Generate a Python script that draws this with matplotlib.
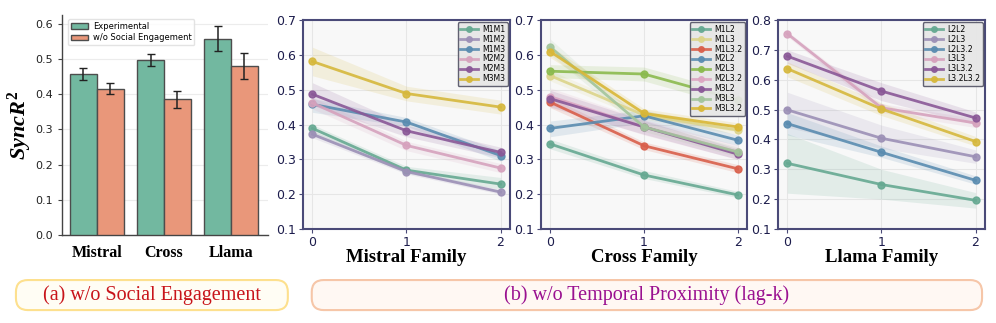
import matplotlib
matplotlib.use("Agg")
import matplotlib.pyplot as plt
import numpy as np
from matplotlib.patches import FancyBboxPatch

plt.rcParams['mathtext.fontset'] = 'custom'
plt.rcParams['mathtext.it'] = 'Liberation Serif:italic:bold'
plt.rcParams['mathtext.rm'] = 'Liberation Serif:bold'

# ---------------- data ----------------
bar_groups = ["Mistral", "Cross", "Llama"]
exp_vals = [0.458, 0.496, 0.557]
exp_err = [0.017, 0.017, 0.035]
wo_vals = [0.415, 0.385, 0.480]
wo_err = [0.015, 0.025, 0.036]

lags = [0, 1, 2]

mistral_names = ["M1M1", "M1M2", "M1M3", "M2M2", "M2M3", "M3M3"]
mistral_vals = [
    [0.389, 0.269, 0.229],
    [0.372, 0.265, 0.206],
    [0.458, 0.407, 0.311],
    [0.462, 0.340, 0.275],
    [0.487, 0.382, 0.320],
    [0.581, 0.489, 0.450],
]
mistral_lo = [
    [0.375, 0.260, 0.215],
    [0.362, 0.258, 0.200],
    [0.435, 0.395, 0.295],
    [0.445, 0.325, 0.262],
    [0.455, 0.365, 0.305],
    [0.540, 0.468, 0.430],
]
mistral_hi = [
    [0.400, 0.280, 0.248],
    [0.382, 0.272, 0.214],
    [0.475, 0.420, 0.325],
    [0.478, 0.352, 0.288],
    [0.520, 0.398, 0.335],
    [0.622, 0.510, 0.470],
]

cross_names = ["M1L2", "M1L3", "M1L3.2", "M2L2", "M2L3", "M2L3.2", "M3L2", "M3L3", "M3L3.2"]
cross_vals = [
    [0.344, 0.255, 0.198],
    [0.540, 0.427, 0.384],
    [0.464, 0.339, 0.273],
    [0.389, 0.425, 0.355],
    [0.553, 0.545, 0.471],
    [0.480, 0.393, 0.321],
    [0.474, 0.393, 0.315],
    [0.622, 0.393, 0.321],
    [0.609, 0.432, 0.393],
]
cross_lo = [
    [0.330, 0.245, 0.190],
    [0.525, 0.415, 0.372],
    [0.448, 0.328, 0.262],
    [0.365, 0.405, 0.340],
    [0.535, 0.525, 0.450],
    [0.455, 0.370, 0.300],
    [0.450, 0.372, 0.300],
    [0.600, 0.380, 0.308],
    [0.592, 0.420, 0.380],
]
cross_hi = [
    [0.358, 0.268, 0.208],
    [0.555, 0.440, 0.395],
    [0.478, 0.350, 0.285],
    [0.410, 0.442, 0.370],
    [0.572, 0.565, 0.490],
    [0.505, 0.415, 0.340],
    [0.498, 0.412, 0.330],
    [0.645, 0.408, 0.335],
    [0.625, 0.445, 0.405],
]

llama_names = ["L2L2", "L2L3", "L2L3.2", "L3L3", "L3L3.2", "L3.2L3.2"]
llama_vals = [
    [0.320, 0.249, 0.196],
    [0.499, 0.404, 0.342],
    [0.453, 0.357, 0.263],
    [0.754, 0.506, 0.455],
    [0.679, 0.562, 0.472],
    [0.637, 0.502, 0.393],
]
llama_lo = [
    [0.220, 0.200, 0.170],
    [0.440, 0.370, 0.320],
    [0.415, 0.340, 0.250],
    [0.745, 0.490, 0.440],
    [0.655, 0.530, 0.450],
    [0.610, 0.480, 0.378],
]
llama_hi = [
    [0.420, 0.300, 0.222],
    [0.558, 0.448, 0.365],
    [0.490, 0.378, 0.278],
    [0.762, 0.520, 0.470],
    [0.700, 0.590, 0.492],
    [0.660, 0.522, 0.410],
]

six_colors = ["#66a992", "#9c90b6", "#5a8cb0", "#d6a2bd", "#8a5897", "#d6b83c"]
cross_colors = ["#66a992", "#dcd48a", "#d95f4b", "#5a8cb0", "#8bba4e",
                "#dca6c2", "#8a5897", "#a3c59c", "#d9b737"]

navy = "#1c1c4c"
spine_col = "#4a4a78"

fig = plt.figure(figsize=(9.96, 3.23), dpi=100)

# ---------------- panel (a) ----------------
axa = fig.add_axes([0.0622, 0.2724, 0.2068, 0.682])
x = np.arange(len(bar_groups))
w = 0.4
axa.bar(x - w / 2, exp_vals, w, yerr=exp_err, color="#72b8a0", edgecolor="#4d4d4d",
        linewidth=1.0, capsize=3, error_kw=dict(ecolor="#222222", elinewidth=1.1, capthick=1.0),
        label="Experimental", zorder=3)
axa.bar(x + w / 2, wo_vals, w, yerr=wo_err, color="#e9977a", edgecolor="#4d4d4d",
        linewidth=1.0, capsize=3, error_kw=dict(ecolor="#222222", elinewidth=1.1, capthick=1.0),
        label="w/o Social Engagement", zorder=3)
axa.set_xlim(-0.52, 2.55)
axa.set_ylim(0, 0.625)
yta = [0.0, 0.1, 0.2, 0.3, 0.4, 0.5, 0.6]
axa.set_yticks(yta)
axa.set_yticklabels([f"{v:.1f}" for v in yta], fontsize=8, color="#222222")
axa.set_xticks(x)
axa.set_xticklabels(bar_groups, fontsize=11.5, fontweight="bold", family="Liberation Serif")
axa.tick_params(axis="x", length=0, pad=7)
axa.tick_params(axis="y", length=3, color="#444444")
axa.grid(axis="y", color="#ececec", linewidth=0.8, zorder=0)
for s in ["top", "right"]:
    axa.spines[s].set_visible(False)
for s in ["left", "bottom"]:
    axa.spines[s].set_color("#444444")
    axa.spines[s].set_linewidth(1.0)
axa.set_ylabel(r"$SyncR^2$", fontsize=16)
axa.yaxis.set_label_coords(-0.135, 0.5)
leg = axa.legend(loc="upper left", fontsize=6.0, frameon=True, borderpad=0.35,
                 handlelength=2.0, handleheight=0.6, handletextpad=0.6,
                 bbox_to_anchor=(0.01, 1.0), labelspacing=0.3)
leg.get_frame().set_edgecolor("#dddddd")
leg.get_frame().set_facecolor("white")

# ---------------- line panels ----------------
def line_panel(rect, names, vals, lo, hi, colors, ylim, yticks, title):
    ax = fig.add_axes(rect)
    ax.set_facecolor("#f8f8f8")
    for n, v, l, h, c in zip(names, vals, lo, hi, colors):
        ax.fill_between(lags, l, h, color=c, alpha=0.15, linewidth=0, zorder=2)
        ax.plot(lags, v, color=c, lw=2.0, marker="o", ms=5, alpha=0.9, label=n, zorder=3)
    ax.set_xlim(-0.1, 2.1)
    ax.set_ylim(*ylim)
    ax.set_xticks(lags)
    ax.set_xticklabels([str(t) for t in lags], fontsize=9, color=navy)
    ax.set_yticks(yticks)
    ax.set_yticklabels([f"{t:.1f}" for t in yticks], fontsize=9, color=navy)
    ax.tick_params(length=3, color=spine_col, pad=2)
    ax.grid(color="#e6e6e6", linewidth=0.8, zorder=0)
    for s in ax.spines.values():
        s.set_color(spine_col)
        s.set_linewidth(1.5)
    ax.set_xlabel(title, fontsize=13.5, fontweight="bold", family="Liberation Serif", labelpad=0)
    lg = ax.legend(loc="upper right", fontsize=5.6, frameon=True, fancybox=True,
                   borderpad=0.35, labelspacing=0.12, handlelength=2.3, handletextpad=0.5,
                   borderaxespad=0.25, markerscale=0.8)
    lg.get_frame().set_facecolor("#e6e6e6")
    lg.get_frame().set_edgecolor("#555566")
    lg.get_frame().set_linewidth(1.0)
    lg.get_frame().set_alpha(0.92)
    return ax

yt7 = [0.1, 0.2, 0.3, 0.4, 0.5, 0.6, 0.7]
yt8 = [0.1, 0.2, 0.3, 0.4, 0.5, 0.6, 0.7, 0.8]
line_panel([0.3042, 0.291, 0.2078, 0.647], mistral_names, mistral_vals, mistral_lo, mistral_hi,
           six_colors, (0.1, 0.7), yt7, "Mistral Family")
line_panel([0.5432, 0.291, 0.2068, 0.647], cross_names, cross_vals, cross_lo, cross_hi,
           cross_colors, (0.1, 0.7), yt7, "Cross Family")
line_panel([0.7811, 0.291, 0.2078, 0.647], llama_names, llama_vals, llama_lo, llama_hi,
           six_colors, (0.1, 0.8), yt8, "Llama Family")

# ---------------- bottom caption boxes ----------------
boxa = FancyBboxPatch((0.016, 0.040), 0.273, 0.093, boxstyle="round,pad=0,rounding_size=0.012",
                      transform=fig.transFigure, facecolor="#fffdf4", edgecolor="#fde08e",
                      linewidth=1.5, mutation_aspect=3.08)
boxb = FancyBboxPatch((0.313, 0.040), 0.673, 0.093, boxstyle="round,pad=0,rounding_size=0.012",
                      transform=fig.transFigure, facecolor="#fff8f3", edgecolor="#f6c6a8",
                      linewidth=1.5, mutation_aspect=3.08)
fig.patches.extend([boxa, boxb])
fig.text(0.1525, 0.0865, "(a) w/o Social Engagement", ha="center", va="center",
         fontsize=14.5, color="#c8141a", family="Liberation Serif")
fig.text(0.6495, 0.0865, "(b) w/o Temporal Proximity (lag-k)", ha="center", va="center",
         fontsize=14.5, color="#9a1090", family="Liberation Serif")

fig.savefig("out.png", dpi=100)
